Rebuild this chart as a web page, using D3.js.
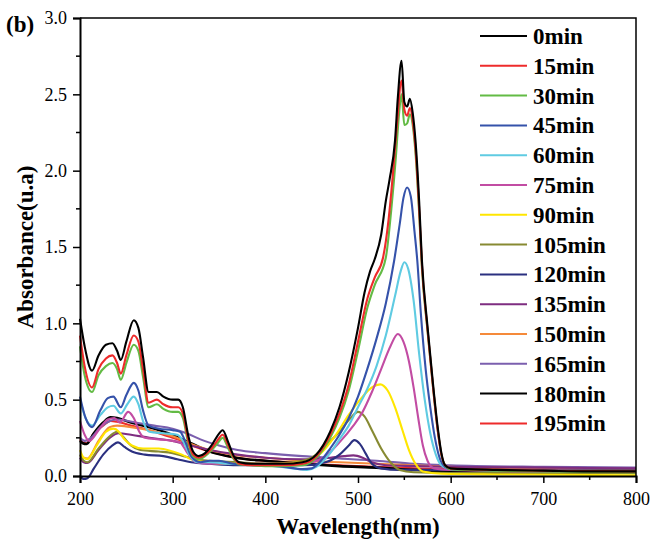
<!DOCTYPE html>
<html>
<head>
<meta charset="utf-8">
<script src="https://cdn.jsdelivr.net/npm/d3@7"></script>
<style>
  body { margin: 0; background: #fff; }
  text { font-family: "Liberation Serif", "Times New Roman", serif; }
</style>
</head>
<body>
<div id="vis"></div>
<script>
let width = 652
let height = 542
let margin = { left: 80, right: 16, top: 18, bottom: 66 }

// legend labels and line colours
let labels = ['0min', '15min', '30min', '45min', '60min', '75min', '90min',
  '105min', '120min', '135min', '150min', '165min', '180min', '195min']
let colors = ['#000000', '#ee2b2b', '#63bb45', '#3552aa', '#5fcbe2', '#c24ca3', '#ffe600',
  '#878a32', '#2b3080', '#7e2d80', '#f58a3a', '#7b5fae', '#000000', '#ee2b2b']

let xTicks = [200, 300, 400, 500, 600, 700, 800]
let yTicks = [0, 0.5, 1.0, 1.5, 2.0, 2.5, 3.0]

// spectra, [wavelength (nm), absorbance]
let min0 = [[200,1.03],[205,0.85],[213,0.69],[220,0.79],[228,0.86],[235,0.87],[240,0.82],[244,0.76],[250,0.88],[258,1.02],[263,0.97],[268,0.78],[274,0.55],[283,0.55],[290,0.52],[300,0.50],[306,0.50],[311,0.45],[317,0.26],[322,0.16],[328,0.13],[335,0.15],[342,0.2],[348,0.26],[354,0.30],[360,0.22],[366,0.13],[372,0.09],[385,0.08],[400,0.08],[420,0.08],[440,0.09],[455,0.14],[470,0.29],[480,0.45],[490,0.68],[500,0.97],[507,1.2],[513,1.34],[518,1.42],[525,1.58],[530,1.8],[534,1.94],[540,2.2],[543,2.48],[547,2.72],[550,2.45],[553,2.42],[556,2.47],[559,2.38],[562,2.2],[566,1.8],[569,1.41],[575,0.98],[581,0.6],[586,0.32],[590,0.15],[594,0.07],[600,0.05],[650,0.04],[700,0.035],[750,0.03],[800,0.03]]
let min15 = [[200,0.92],[205,0.72],[213,0.58],[220,0.7],[228,0.77],[235,0.79],[240,0.74],[244,0.67],[250,0.79],[258,0.92],[263,0.88],[268,0.7],[274,0.48],[283,0.5],[290,0.47],[300,0.45],[306,0.45],[311,0.41],[317,0.23],[322,0.14],[328,0.12],[335,0.14],[342,0.18],[348,0.23],[354,0.27],[360,0.2],[366,0.12],[372,0.08],[385,0.07],[400,0.07],[420,0.07],[440,0.08],[455,0.13],[470,0.27],[480,0.41],[490,0.6],[500,0.88],[510,1.16],[518,1.3],[527,1.43],[533,1.68],[538,2.0],[542,2.3],[547,2.59],[550,2.4],[553,2.36],[556,2.41],[559,2.33],[562,2.15],[566,1.75],[569,1.38],[575,0.96],[581,0.58],[586,0.3],[590,0.14],[594,0.07],[600,0.05],[650,0.04],[700,0.035],[800,0.03]]
let min30 = [[200,0.85],[205,0.66],[213,0.55],[220,0.66],[228,0.72],[235,0.74],[240,0.7],[244,0.63],[250,0.74],[258,0.86],[263,0.82],[268,0.65],[274,0.45],[283,0.47],[290,0.44],[300,0.42],[306,0.42],[311,0.38],[317,0.21],[322,0.13],[328,0.11],[335,0.13],[342,0.17],[348,0.21],[354,0.25],[360,0.18],[366,0.11],[372,0.075],[385,0.07],[400,0.065],[420,0.065],[440,0.07],[455,0.12],[470,0.25],[480,0.38],[490,0.56],[500,0.82],[510,1.1],[518,1.25],[530,1.43],[536,1.75],[541,2.1],[544,2.35],[547,2.5],[550,2.3],[553,2.31],[556,2.37],[559,2.3],[562,2.12],[566,1.72],[569,1.36],[575,0.95],[581,0.58],[586,0.3],[590,0.14],[594,0.07],[600,0.045],[650,0.035],[700,0.03],[800,0.025]]
let min45 = [[200,0.52],[206,0.38],[213,0.32],[222,0.43],[230,0.51],[236,0.52],[244,0.45],[250,0.53],[258,0.61],[263,0.56],[268,0.43],[274,0.33],[285,0.31],[300,0.30],[308,0.29],[314,0.22],[320,0.13],[330,0.09],[340,0.1],[350,0.1],[365,0.08],[390,0.07],[420,0.06],[440,0.045],[450,0.05],[460,0.1],[470,0.18],[480,0.27],[490,0.38],[500,0.52],[510,0.7],[520,0.9],[530,1.13],[539,1.41],[545,1.65],[549,1.82],[553,1.89],[557,1.83],[561,1.6],[564,1.41],[568,1.05],[573,0.7],[578,0.45],[583,0.25],[588,0.12],[594,0.06],[600,0.045],[700,0.035],[800,0.03]]
let min60 = [[200,0.5],[206,0.38],[213,0.33],[222,0.4],[230,0.45],[236,0.46],[244,0.41],[251,0.47],[258,0.52],[263,0.47],[268,0.36],[275,0.29],[290,0.28],[305,0.27],[312,0.22],[318,0.14],[328,0.09],[340,0.09],[360,0.08],[400,0.07],[430,0.05],[445,0.04],[455,0.06],[470,0.15],[480,0.24],[490,0.33],[500,0.45],[510,0.57],[520,0.72],[530,0.92],[540,1.18],[546,1.34],[550,1.4],[554,1.36],[560,1.15],[566,0.8],[572,0.5],[578,0.28],[584,0.14],[590,0.07],[600,0.045],[700,0.035],[800,0.03]]
let min75 = [[200,0.36],[205,0.27],[210,0.23],[220,0.3],[230,0.37],[237,0.38],[243,0.35],[252,0.42],[258,0.38],[264,0.29],[270,0.25],[285,0.24],[300,0.23],[308,0.22],[316,0.15],[325,0.09],[340,0.08],[370,0.08],[400,0.08],[430,0.08],[450,0.09],[465,0.13],[480,0.22],[495,0.33],[505,0.42],[515,0.55],[525,0.7],[535,0.85],[543,0.93],[549,0.88],[555,0.75],[560,0.58],[565,0.38],[570,0.2],[575,0.1],[582,0.05],[600,0.04],[700,0.03],[800,0.03]]
let min90 = [[200,0.17],[204,0.12],[208,0.11],[218,0.2],[228,0.29],[236,0.31],[242,0.29],[248,0.24],[256,0.2],[268,0.18],[285,0.18],[300,0.16],[310,0.14],[320,0.11],[335,0.09],[360,0.08],[400,0.08],[440,0.09],[460,0.15],[475,0.26],[490,0.4],[505,0.52],[515,0.58],[524,0.6],[532,0.56],[540,0.45],[548,0.3],[555,0.17],[562,0.08],[570,0.03],[590,0.015],[650,0.01],[800,0.005]]
let min105 = [[200,0.14],[204,0.1],[208,0.09],[220,0.18],[232,0.26],[240,0.29],[246,0.26],[255,0.2],[265,0.17],[285,0.16],[300,0.15],[312,0.13],[325,0.11],[340,0.1],[370,0.09],[400,0.08],[430,0.09],[450,0.12],[465,0.2],[480,0.29],[492,0.38],[500,0.42],[507,0.39],[515,0.3],[525,0.18],[535,0.09],[545,0.04],[560,0.025],[600,0.02],[800,0.02]]
let min120 = [[200,0.0],[204,-0.02],[208,-0.015],[215,0.05],[225,0.14],[235,0.2],[241,0.22],[248,0.19],[256,0.16],[270,0.14],[290,0.13],[305,0.11],[320,0.09],[340,0.08],[370,0.07],[400,0.07],[440,0.07],[465,0.09],[480,0.14],[490,0.2],[496,0.235],[502,0.21],[508,0.15],[515,0.08],[525,0.05],[545,0.04],[600,0.04],[800,0.035]]
let min135 = [[200,0.12],[204,0.09],[208,0.085],[220,0.17],[232,0.25],[242,0.28],[255,0.27],[275,0.25],[300,0.23],[320,0.2],[340,0.17],[370,0.14],[400,0.12],[440,0.11],[470,0.12],[485,0.13],[495,0.135],[505,0.12],[515,0.09],[530,0.07],[560,0.065],[600,0.06],[700,0.055],[800,0.05]]
let min150 = [[200,0.13],[204,0.12],[208,0.115],[220,0.23],[232,0.32],[240,0.33],[255,0.32],[275,0.3],[300,0.26],[320,0.21],[340,0.17],[365,0.14],[400,0.12],[440,0.1],[480,0.09],[520,0.08],[560,0.07],[600,0.06],[700,0.05],[800,0.045]]
let min165 = [[200,0.25],[205,0.23],[212,0.25],[222,0.32],[232,0.36],[240,0.37],[260,0.35],[280,0.33],[300,0.31],[315,0.28],[330,0.24],[350,0.2],[370,0.17],[400,0.15],[440,0.13],[480,0.115],[520,0.1],[560,0.08],[600,0.07],[700,0.06],[800,0.055]]
let min180 = [[200,0.23],[203,0.215],[207,0.21],[215,0.28],[225,0.35],[233,0.385],[240,0.38],[255,0.35],[275,0.32],[295,0.28],[310,0.24],[325,0.2],[340,0.16],[360,0.13],[380,0.11],[400,0.1],[440,0.08],[480,0.065],[520,0.055],[560,0.04],[600,0.03],[700,0.025],[800,0.02]]
let min195 = [[200,0.24],[203,0.22],[207,0.215],[215,0.28],[225,0.33],[233,0.36],[240,0.355],[255,0.33],[275,0.3],[295,0.26],[310,0.23],[325,0.19],[340,0.16],[360,0.13],[380,0.11],[400,0.1],[440,0.085],[480,0.07],[520,0.06],[560,0.05],[600,0.045],[700,0.04],[800,0.035]]

let spectra = [min0, min15, min30, min45, min60, min75, min90,
  min105, min120, min135, min150, min165, min180, min195]

let svg = d3.select("#vis")
  .append("svg")
    .attr("width", width)
    .attr("height", height)
    .style('background', '#fff')

let x = d3.scaleLinear().domain([200, 800]).range([margin.left, width - margin.right])
let y = d3.scaleLinear().domain([0, 3]).range([height - margin.bottom, margin.top])

let line = d3.line()
  .x(d => x(d[0]))
  .y(d => y(d[1]))
  .curve(d3.curveMonotoneX)

// draw the later (flat) spectra first so the big peaks sit on top
let order = d3.range(spectra.length).reverse()
svg.append("g")
  .selectAll("path")
  .data(order)
  .enter()
  .append("path")
    .attr("d", i => line(spectra[i]))
    .attr("fill", "none")
    .attr("stroke", i => colors[i])
    .attr("stroke-width", i => i == 12 ? 2.6 : 2.1)
    .attr("stroke-linejoin", "round")

// frame (top and right)
svg.append("path")
  .attr("d", `M${x(200)},${y(3)}H${x(800)}V${y(0)}`)
  .attr("fill", "none")
  .attr("stroke", "#000")
  .attr("stroke-width", 1.5)

// x axis
let xAxis = svg.append("g")
  .attr("transform", `translate(0,${y(0)})`)
  .call(d3.axisBottom(x).tickValues(xTicks).tickSize(7).tickPadding(9).tickFormat(d3.format("d")))
xAxis.append("g").selectAll("line")
  .data([250, 350, 450, 550, 650, 750])
  .enter().append("line")
    .attr("x1", d => x(d)).attr("x2", d => x(d))
    .attr("y1", 0).attr("y2", 4)
    .attr("stroke", "#000").attr("stroke-width", 1.5)

// y axis
let yAxis = svg.append("g")
  .attr("transform", `translate(${x(200)},0)`)
  .call(d3.axisLeft(y).tickValues(yTicks).tickSize(7).tickPadding(6).tickFormat(d3.format(".1f")))
yAxis.append("g").selectAll("line")
  .data([0.25, 0.75, 1.25, 1.75, 2.25, 2.75])
  .enter().append("line")
    .attr("y1", d => y(d)).attr("y2", d => y(d))
    .attr("x1", 0).attr("x2", -4)
    .attr("stroke", "#000").attr("stroke-width", 1.5)

svg.selectAll(".domain").attr("stroke-width", 2)
svg.selectAll(".tick line").attr("stroke-width", 1.5)
svg.selectAll(".tick text")
  .style("font-family", '"Liberation Serif", serif')
  .style("font-size", "18px")
  .attr("fill", "#000")

// axis titles
svg.append("text")
  .attr("x", (x(200) + x(800)) / 2)
  .attr("y", 534)
  .attr("text-anchor", "middle")
  .style("font-size", "23px")
  .style("font-weight", "bold")
  .text("Wavelength(nm)")

svg.append("text")
  .attr("transform", `translate(33,${(y(0) + y(3)) / 2}) rotate(-90)`)
  .attr("text-anchor", "middle")
  .style("font-size", "23px")
  .style("font-weight", "bold")
  .text("Absorbance(u.a)")

svg.append("text")
  .attr("x", 6)
  .attr("y", 32)
  .style("font-size", "23px")
  .style("font-weight", "bold")
  .text("(b)")

// legend
let legend = svg.append("g")
  .selectAll("g")
  .data(labels)
  .enter()
  .append("g")
    .attr("transform", (d, i) => `translate(480,${36 + i * 29.8})`)

legend.append("line")
  .attr("x1", 0).attr("x2", 47)
  .attr("stroke", (d, i) => colors[i])
  .attr("stroke-width", 2)

legend.append("text")
  .attr("x", 53)
  .attr("y", 8)
  .style("font-size", "23px")
  .style("font-weight", "bold")
  .text(d => d)
</script>
</body>
</html>
